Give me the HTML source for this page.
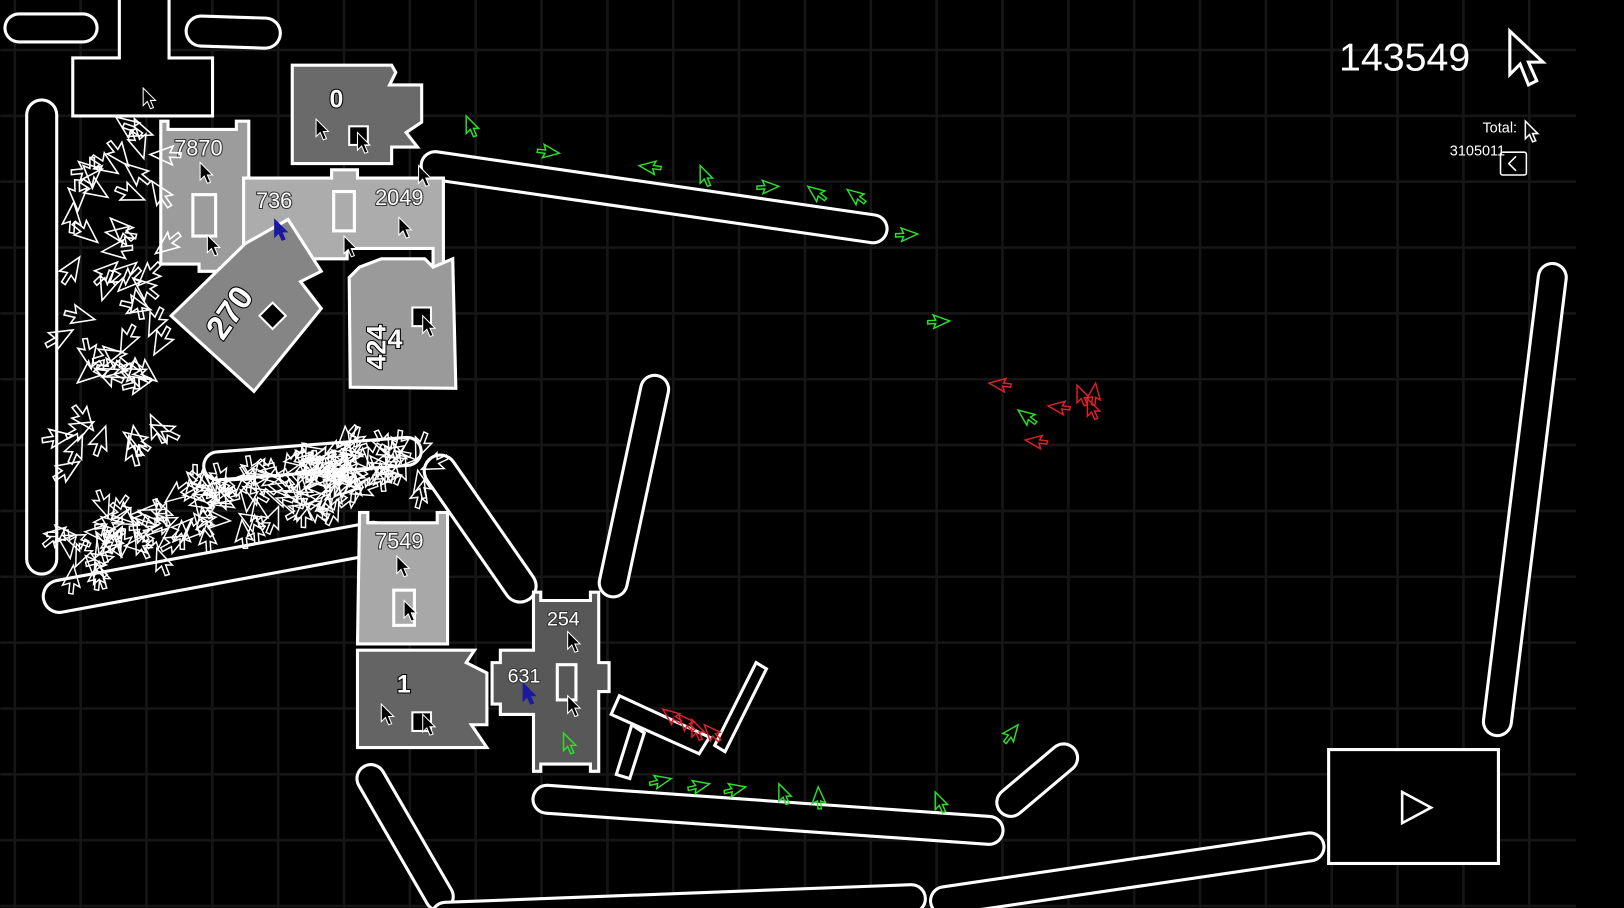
<!DOCTYPE html>
<html><head><meta charset="utf-8"><style>
html,body{margin:0;padding:0;background:#000;overflow:hidden}
svg{display:block}
text{font-family:"Liberation Sans",sans-serif}
</style></head><body>
<svg id="s" width="1624" height="908" viewBox="0 0 1568 877" xmlns="http://www.w3.org/2000/svg">
<defs>
<path id="cw" d="M0 0 L0 17 L4 13 L7 20 L10 19 L7 12 L12 12 Z" fill="none" stroke="#fff" stroke-width="1.1" stroke-linejoin="miter"/>
<path id="cg" d="M0 0 L0 17 L4 13 L7 20 L10 19 L7 12 L12 12 Z" fill="none" stroke="#2be02b" stroke-width="1.4"/>
<path id="cr" d="M0 0 L0 17 L4 13 L7 20 L10 19 L7 12 L12 12 Z" fill="none" stroke="#e0202a" stroke-width="1.4"/>
<path id="cb" d="M0 0 L0 17 L4 13 L7 20 L10 19 L7 12 L12 12 Z" fill="#000" stroke="#fff" stroke-width="1"/>
<path id="cbl" d="M0 0 L0 17 L4 13 L7 20 L10 19 L7 12 L12 12 Z" fill="#1a1aa0" stroke="#1a1aa0" stroke-width="1"/>
</defs>
<g id="grid" stroke="#161616" stroke-width="2.5"></g>
<g id="caps"></g>
<path d="M115 0 V56 H70 V112 H205 V56 H163 V0" fill="#000" stroke="#fff" stroke-width="3"/>
<g stroke="#fff" stroke-width="3">
<path d="M282 63 H378 L382 70 L376 82 L407 82 V118 L392 128 L403 142 L378 142 V158 H282 Z" fill="#6a6a6a"/>
<path d="M155 117 H162 V125 H228 V117 H240 V255 H232 V262 H192 V255 H155 Z" fill="#9c9c9c"/>
<path d="M235 172 H320 V164 H345 V172 H428 V258 H418 V240 H335 V250 H290 V240 H235 Z" fill="#acacac"/>
<path d="M237 235 L278 212 L310 262 L290 272 L310 298 L245 378 L165 305 Z" fill="#858585"/>
<path d="M347 258 L368 250 L410 250 L418 258 L437 250 L440 375 L338 374 L337 268 Z" fill="#9a9a9a"/>
<path d="M347 495 H355 V505 H422 V495 H432 V622 H345 Z" fill="#a8a8a8"/>
<path d="M345 628 H458 L450 640 L470 650 V700 L455 700 L470 722 H345 Z" fill="#646464"/>
<path d="M515 572 H522 V580 H570 V572 H578 V640 H588 V668 H578 V745 H570 V738 H522 V745 H515 V690 H483 V680 H475 V640 H483 V628 H515 Z" fill="#585858"/>
</g>
<g fill="none" stroke="#fff" stroke-width="3">
<rect x="186" y="188" width="22" height="40"/>
<rect x="322" y="185" width="20" height="38"/>
<rect x="380" y="570" width="20" height="34"/>
<rect x="538" y="642" width="18" height="34"/>
</g>
<rect x="337" y="122" width="18" height="18" fill="#000" stroke="#fff" stroke-width="2"/>
<rect x="398" y="297" width="18" height="18" fill="#000" stroke="#fff" stroke-width="2"/>
<rect x="254" y="296" width="18" height="18" fill="#000" stroke="#fff" stroke-width="2" transform="rotate(45 263 305)"/>
<rect x="398" y="688" width="18" height="18" fill="#000" stroke="#fff" stroke-width="2"/>
<g fill="#fff" stroke="#333" stroke-width="2" paint-order="stroke" font-size="21">
<text x="168" y="150">7870</text>
<text x="247" y="201">736</text>
<text x="362" y="198">2049</text>
<text x="362" y="530">7549</text>
<text x="528" y="604" font-size="19">254</text>
<text x="490" y="659" font-size="19">631</text>
</g>
<g fill="#fff" stroke="#000" stroke-width="2" font-weight="bold" font-size="24" paint-order="stroke">
<text x="318" y="104">0</text>
<text x="383" y="669">1</text>
<text x="0" y="0" font-size="32" transform="translate(215 330) rotate(-55)">270</text>
<text x="0" y="0" font-size="26" transform="translate(372 357) rotate(-90)">424</text>
<text x="374" y="336" font-size="26">4</text>
</g>
<path d="M598 672 L685 712 L675 728 L590 690 Z M610 700 L595 748 L608 752 L622 708 Z M690 720 L730 640 L740 646 L700 726 Z" fill="#000" stroke="#fff" stroke-width="3"/>
<rect x="1283" y="724" width="164" height="110" fill="#000" stroke="#fff" stroke-width="3"/>
<path d="M1354 765 L1382 780 L1354 795 Z" fill="none" stroke="#fff" stroke-width="2.5"/>
<g id="crowd"></g>
<g id="col"></g>
<text x="1293" y="68" fill="#fff" font-size="38">143549</text>
<path d="M1458 30 L1458 72 L1468 62 L1476 82 L1484 78 L1476 60 L1490 60 Z" fill="none" stroke="#fff" stroke-width="3"/>
<text x="1465" y="128" fill="#fff" font-size="14" text-anchor="end">Total:</text>
<path d="M1473 117 L1473 134 L1477 130 L1480 137 L1483 136 L1480 129 L1485 129 Z" fill="none" stroke="#fff" stroke-width="1.5"/>
<text x="1400" y="150" fill="#fff" font-size="14">3105011</text>
<rect x="1449" y="147" width="25" height="22" rx="2" fill="none" stroke="#fff" stroke-width="1.5"/>
<path d="M1464 151 L1457 158 L1464 165" fill="none" stroke="#fff" stroke-width="1.5"/>
</svg>
<script>
var NS="http://www.w3.org/2000/svg";
function el(p,n,a){var e=document.createElementNS(NS,n);for(var k in a)e.setAttribute(k,a[k]);p.appendChild(e);return e;}
var g=document.getElementById('grid');
for(var x=14;x<1525;x+=63.6)el(g,'line',{x1:x,y1:0,x2:x,y2:877});
for(var y=48.3-63.6;y<877;y+=63.6)el(g,'line',{x1:0,y1:y,x2:1522,y2:y});
var c=document.getElementById('caps');
function cap(x1,y1,x2,y2,w){el(c,'line',{x1:x1,y1:y1,x2:x2,y2:y2,stroke:'#fff','stroke-width':w,'stroke-linecap':'round'});
el(c,'line',{x1:x1,y1:y1,x2:x2,y2:y2,stroke:'#000','stroke-width':w-6,'stroke-linecap':'round'});}
cap(18,27,80,27,30);cap(194,30,256,32,32);cap(40,111,40,540,32);
cap(420,160,843,221,30);cap(210,450,393,436,30);cap(57,576,360,520,34);
cap(425,455,502,566,34);cap(632,376,592,563,30);cap(1499,268,1446,697,30);
cap(528,772,955,802,30);cap(976,775,1027,732,30);cap(358,752,424,866,30);
cap(912,870,1265,818,30);cap(430,885,880,868,30);
var cr=document.getElementById('crowd');
var seed=7;function r(){seed=(seed*16807)%2147483647;return seed/2147483647;}
for(var i=0;i<55;i++){var x=70+r()*85,y=112+r()*335;el(cr,'use',{href:'#cw',transform:'translate('+x+' '+y+') rotate('+(r()*360)+') scale(1.4)'});}
for(var i=0;i<110;i++){var t=r();var x=60+t*290;var yb=555-t*80;var y=yb-r()*(45+t*10);
el(cr,'use',{href:'#cw',transform:'translate('+x+' '+y+') rotate('+(r()*360)+') scale(1.3)'});}
for(var i=0;i<40;i++){var t=r();var x=270+t*140;var y=495-t*30-r()*40;
el(cr,'use',{href:'#cw',transform:'translate('+x+' '+y+') rotate('+(r()*360)+') scale(1.3)'});}
var co=document.getElementById('col');
var G=[[450,112,0],[540,148,120],[617,160,-60],[676,160,0],[752,180,110],[780,180,-30],[818,183,-30],[886,226,110],[917,310,110],[983,396,-30],[983,700,60],[903,765,0],[648,752,100],[685,757,100],[720,760,100],[752,757,0],[790,760,20],[544,708,0]];
G.forEach(function(a){el(co,'use',{href:'#cg',transform:'translate('+a[0]+' '+a[1]+') rotate('+a[2]+')'});});
var R=[[955,370,-60],[1012,392,-60],[1040,372,0],[1058,370,30],[1050,385,0],[990,425,-60],[640,685,-30],[655,690,-20],[668,695,0],[680,700,-20]];
R.forEach(function(a){el(co,'use',{href:'#cr',transform:'translate('+a[0]+' '+a[1]+') rotate('+a[2]+')'});});
var B=[[138,85],[305,115],[345,128],[193,157],[200,227],[385,210],[332,228],[408,305],[383,537],[390,580],[548,610],[368,680],[408,690],[548,672],[404,160]];
B.forEach(function(a){el(co,'use',{href:'#cb',transform:'translate('+a[0]+' '+a[1]+')'});});
el(co,'use',{href:'#cbl',transform:'translate(265 212)'});
el(co,'use',{href:'#cbl',transform:'translate(505 660)'});
</script>
</body></html>
